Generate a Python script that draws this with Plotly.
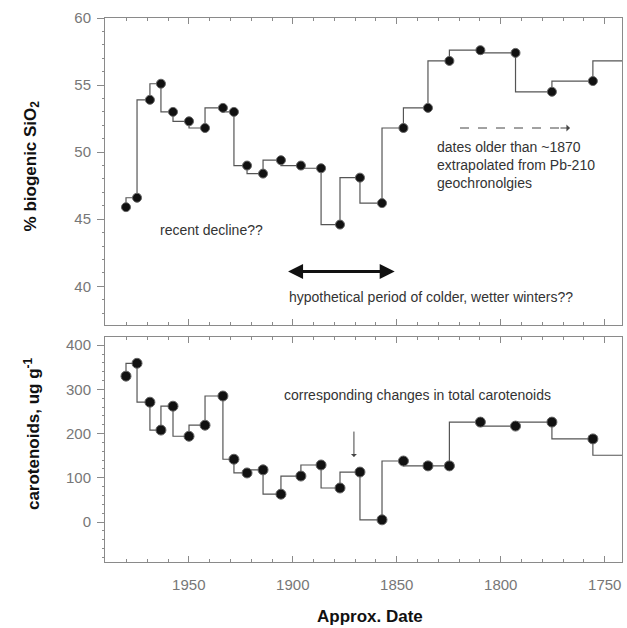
import plotly.graph_objects as go

# ---- data ----
years = [1980.2, 1974.9, 1968.7, 1963.4, 1957.6, 1949.9, 1942.2, 1933.6, 1928.3,
         1922.0, 1914.3, 1905.7, 1896.1, 1886.4, 1877.3, 1867.7, 1857.1, 1846.8,
         1835.0, 1824.7, 1809.8, 1792.9, 1775.4, 1755.7, 1738.0]
sio2 = [45.9, 46.6, 53.9, 55.1, 53.0, 52.3, 51.8, 53.3, 53.0,
        49.0, 48.4, 49.4, 49.0, 48.8, 44.6, 48.1, 46.2, 51.8,
        53.3, 56.8, 57.6, 57.4, 54.5, 55.3, 56.8]
carot = [330, 359, 271, 208, 262, 194, 219, 285, 142,
         111, 118, 63, 104, 129, 77, 113, 5, 138,
         127, 127, 226, 217, 226, 188, 151]

x_ticks = [1950, 1900, 1850, 1800, 1750]
sio2_ticks = [40, 45, 50, 55, 60]
carot_ticks = [0, 100, 200, 300, 400]

FONT = "Liberation Sans, Arial, sans-serif"
LINE_C = "#555555"
AX_C = "#8a8a8a"
TICKFONT = dict(family=FONT, size=15, color="#777777")

fig = go.Figure()
fig.add_trace(go.Scatter(
    x=years, y=sio2, mode="lines+markers", line_shape="vh",
    line=dict(color=LINE_C, width=1.2),
    marker=dict(size=9, color="#111111", line=dict(color="#666666", width=1)),
    xaxis="x", yaxis="y", showlegend=False))
fig.add_trace(go.Scatter(
    x=years, y=carot, mode="lines+markers", line_shape="vh",
    line=dict(color=LINE_C, width=1.2),
    marker=dict(size=10, color="#111111", line=dict(color="#666666", width=1)),
    xaxis="x2", yaxis="y2", showlegend=False))

xcommon = dict(
    range=[1990.3, 1741.7], tickvals=x_ticks, ticks="inside", ticklen=6,
    tickcolor=AX_C, tickwidth=1, showline=True, linecolor=AX_C, linewidth=1,
    mirror="ticks", showgrid=False, zeroline=False,
    minor=dict(dtick=10, ticks="inside", ticklen=3, tickcolor=AX_C, showgrid=False),
    tickfont=TICKFONT,
)
ycommon = dict(
    ticks="outside", ticklen=7, tickcolor=AX_C, tickwidth=1, showline=True,
    linecolor=AX_C, linewidth=1, mirror=True, showgrid=False, zeroline=False,
    tickfont=TICKFONT, ticklabelstandoff=3,
)

fig.update_layout(
    width=627, height=628,
    margin=dict(l=105, r=5, t=18, b=66),
    paper_bgcolor="white", plot_bgcolor="white",
    xaxis=dict(**xcommon, domain=[0, 1], anchor="y", showticklabels=False, matches="x2"),
    xaxis2=dict(**xcommon, domain=[0, 1], anchor="y2", showticklabels=True, ticklabelstandoff=9),
    yaxis=dict(**ycommon, domain=[0.4353, 1], range=[37.1, 60], tickvals=sio2_ticks,
               minor=dict(dtick=1, ticks="outside", ticklen=2, tickcolor=AX_C, showgrid=False),
               anchor="x"),
    yaxis2=dict(**ycommon, domain=[0, 0.4132], range=[-90.4, 418], tickvals=carot_ticks,
                minor=dict(dtick=20, ticks="outside", ticklen=2, tickcolor=AX_C, showgrid=False),
                anchor="x2"),
)

TXT = dict(family=FONT, size=14, color="#333333")
TITLE = dict(family=FONT, size=17, color="#111111")
ann = []
# axis titles
ann.append(dict(text="<b>% biogenic SiO<sub>2</sub></b>", xref="paper", yref="paper",
                x=-0.1412, y=0.729, xanchor="center", yanchor="middle",
                textangle=-90, showarrow=False, font=TITLE))
ann.append(dict(text="<b>carotenoids, ug g<sup>-1</sup></b>", xref="paper", yref="paper",
                x=-0.1412, y=0.237, xanchor="center", yanchor="middle",
                textangle=-90, showarrow=False, font=TITLE))
ann.append(dict(text="<b>Approx. Date</b>", xref="paper", yref="paper",
                x=0.5126, y=-0.101, xanchor="center", yanchor="middle",
                showarrow=False, font=TITLE))
# top-panel notes
ann.append(dict(text="recent decline??", xref="x", yref="y", x=1939.3, y=44.2,
                showarrow=False, font=TXT))
ann.append(dict(text="hypothetical period of colder, wetter winters??", xref="x", yref="y",
                x=1833.5, y=39.2, showarrow=False, font=TXT))
ann.append(dict(text="", xref="x", yref="y", x=1851, y=41.1, ax=1903, ay=41.1,
                axref="x", ayref="y", showarrow=True, arrowside="end+start",
                arrowhead=2, arrowsize=1, arrowwidth=3, arrowcolor="#111111"))
ann.append(dict(text="dates older than ~1870<br>extrapolated from Pb-210<br>geochronolgies",
                xref="x", yref="y", x=1831.6, y=51.15, xanchor="left", yanchor="top",
                align="left", showarrow=False, font=TXT))
ann.append(dict(text="", xref="x", yref="y", x=1766.7, y=51.8, ax=1772, ay=51.8,
                axref="x", ayref="y", showarrow=True, arrowhead=1, arrowsize=1.2,
                arrowwidth=1, arrowcolor="#444444"))
# bottom-panel notes
ann.append(dict(text="corresponding changes in total carotenoids", xref="x2", yref="y2",
                x=1839.8, y=287, showarrow=False, font=TXT))
ann.append(dict(text="", xref="x2", yref="y2", x=1870.6, y=147, ax=1870.6, ay=208,
                axref="x2", ayref="y2", showarrow=True, arrowhead=1, arrowsize=1,
                arrowwidth=1, arrowcolor="#444444"))
fig.update_layout(annotations=ann)

fig.add_shape(type="line", xref="x", yref="y", x0=1819.6, x1=1768, y0=51.8, y1=51.8,
              line=dict(color="#444444", width=1, dash="dash"))

fig.write_html("out.html")
